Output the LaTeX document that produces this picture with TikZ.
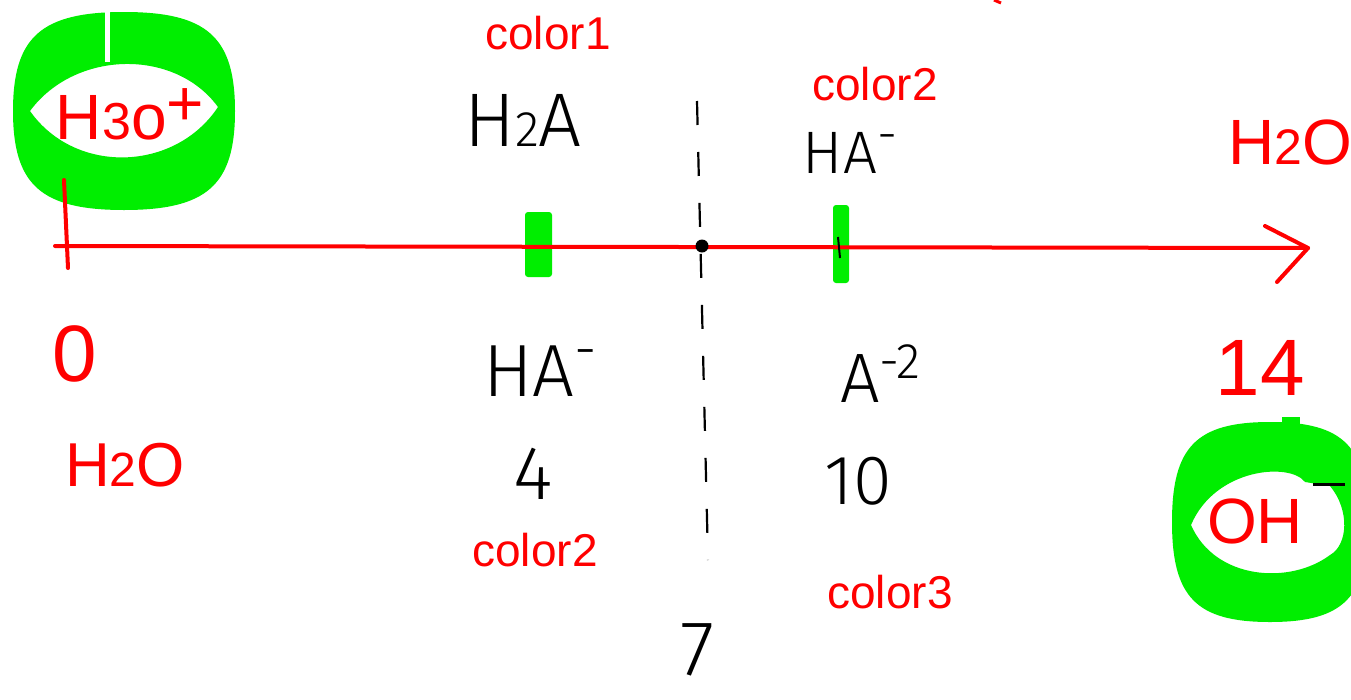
\documentclass[tikz,border=0pt]{standalone}
\usepackage{fontspec}
\setmainfont{Liberation Sans}
\newfontfamily\thinfont{Fira Sans Light}
\newcommand\sz[1]{\fontsize{#1}{#1}\selectfont}
\definecolor{inkred}{RGB}{255,0,0}
\definecolor{hilite}{RGB}{0,238,0}
\tikzset{
  redtxt/.style={text=inkred, inner sep=0pt, font=\sz{46}},
  blacktxt/.style={text=black, inner sep=0pt, font=\thinfont\sz{76}},
  axisline/.style={draw=inkred, line width=4pt, line cap=round, line join=round},
  marker/.style={fill=hilite, draw=none, rounded corners=3pt},
  divider/.style={draw=black, line width=2.2pt, dash pattern=on 24pt off 27pt},
}
\begin{document}
\begin{tikzpicture}[x=1pt, y=-1pt]
\useasboundingbox[fill=white] (0,0) rectangle (1351,699);

% green highlight rings (squarish ovals with a lens-shaped hole)
\fill[hilite, even odd rule]
  (13,111) .. controls (13,37) and (41,12) .. (124,12)
           .. controls (207,12) and (235,37) .. (235,111)
           .. controls (235,185) and (207,210) .. (124,210)
           .. controls (41,210) and (13,185) .. (13,111)
  (30,111) .. controls (75,50) and (175,48) .. (218,107)
           .. controls (175,172) and (75,175) .. (30,111);
\fill[white] (105,8) rectangle (110,62);
\fill[hilite, even odd rule]
  (1172,522) .. controls (1172,447) and (1196,422) .. (1270,422)
             .. controls (1344,422) and (1368,447) .. (1368,522)
             .. controls (1368,597) and (1344,622) .. (1270,622)
             .. controls (1196,622) and (1172,597) .. (1172,522)
  (1191,525) .. controls (1215,468) and (1290,462) .. (1305,482)
             -- (1330,486)
             .. controls (1350,510) and (1348,545) .. (1330,555)
             .. controls (1290,585) and (1215,580) .. (1191,525);
\fill[hilite] (1282,417) rectangle (1300,430);

% green markers on the axis
\fill[marker] (525,212) rectangle (552,277);
\fill[marker] (833,205) rectangle (849,283);

% dashed divider
\coordinate (dtop) at (697,101);
\coordinate (dbot) at (708,560);
\draw[divider] (dtop) -- (dbot);

% pH axis
\coordinate (axL) at (55,246);
\coordinate (axR) at (1308,248);
\coordinate (ahU) at (1265,226);
\coordinate (ahD) at (1277,282);
\coordinate (tkU) at (64,180);
\coordinate (tkD) at (68,268);
\draw[axisline] (axL) -- (axR);
\draw[axisline] (ahU) -- (axR) -- (ahD);
\draw[axisline] (tkU) -- (tkD);
\coordinate (neutral) at (702,246);
\fill[black] (neutral) circle (6.5);
\coordinate (mkU) at (838,237);
\coordinate (mkD) at (840,258);
\draw[black, line width=2pt] (mkU) -- (mkD);

% small stroke at the top edge
\coordinate (cutA) at (994,0);
\coordinate (cutB) at (1001,3);
\draw[inkred, line width=3pt] (cutA) -- (cutB);

% labels above the axis
\node[redtxt, font=\sz{64}] (h3o) at (130,114) {H{\sz{52}3}o\raisebox{14pt}{+}};
\node[redtxt] (color1) at (548,33) {color1};
\node[blacktxt] (h2a) at (523,120) {H{\sz{50}2}A};
\node[redtxt] (color2a) at (875,84) {color2};
\node[blacktxt, font=\thinfont\sz{60}] (ha1) at (850,153) {HA\raisebox{22pt}{\sz{50}-}};
\node[redtxt, font=\sz{64}] (h2oR) at (1290,142) {H{\sz{50}2}O};

% labels below the axis
\node[redtxt, font=\sz{80}] (zero) at (75,354) {0};
\node[redtxt, font=\sz{62}] (h2oL) at (125,465) {H{\sz{48}2}O};
\node[blacktxt, font=\thinfont\sz{74}] (ha2) at (540,371) {HA\raisebox{28pt}{\sz{56}-}};
\node[blacktxt] (four) at (533,474) {4};
\node[redtxt] (color2b) at (535,550) {color2};
\node[blacktxt, font=\thinfont\sz{70}] (a2) at (880,374) {A\raisebox{24pt}{\sz{50}-2}};
\node[blacktxt, font=\thinfont\sz{70}] (ten) at (858,481) {10};
\node[redtxt] (color3) at (890,592) {color3};
\node[blacktxt, font=\thinfont\sz{78}] (seven) at (698,650) {7};
\node[redtxt, font=\sz{80}] (fourteen) at (1260,368) {14};
\node[redtxt, font=\sz{64}] (oh) at (1255,521) {OH};
\coordinate (minA) at (1313,484);
\coordinate (minB) at (1345,484);
\draw[black, line width=3pt] (minA) -- (minB);
\end{tikzpicture}
\end{document}
